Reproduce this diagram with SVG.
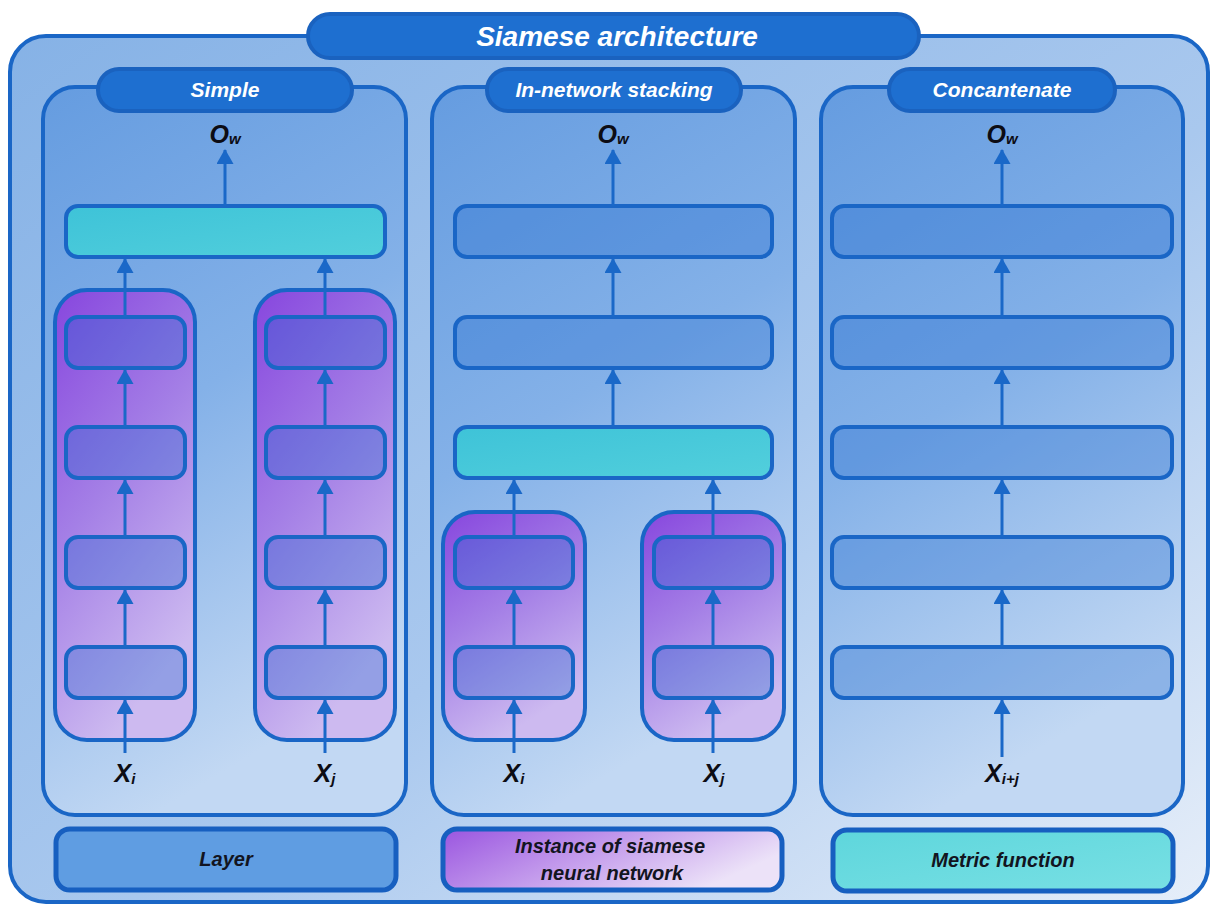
<svg xmlns="http://www.w3.org/2000/svg" width="1210" height="904" viewBox="0 0 1210 904">
  <defs>
    <linearGradient id="gOuter" x1="0" y1="0" x2="1" y2="1">
      <stop offset="0" stop-color="#86b2e6"/>
      <stop offset="0.55" stop-color="#a9c8ee"/>
      <stop offset="1" stop-color="#e6eef9"/>
    </linearGradient>
    <linearGradient id="gPanel" x1="0" y1="0" x2="0.3" y2="1">
      <stop offset="0" stop-color="#659ce0"/>
      <stop offset="0.5" stop-color="#84b1e8"/>
      <stop offset="1" stop-color="#c2d8f3"/>
    </linearGradient>
    <linearGradient id="gInst" x1="0" y1="0" x2="0.4" y2="1">
      <stop offset="0" stop-color="#8746de"/>
      <stop offset="0.5" stop-color="#a47fe6"/>
      <stop offset="1" stop-color="#cdbaf0"/>
    </linearGradient>
    <linearGradient id="gInstLegend" x1="0" y1="0" x2="1" y2="0.4">
      <stop offset="0" stop-color="#9a55e0"/>
      <stop offset="0.6" stop-color="#cba8ee"/>
      <stop offset="1" stop-color="#ece2f8"/>
    </linearGradient>
    <linearGradient id="gMetric" x1="0" y1="0" x2="1" y2="1">
      <stop offset="0" stop-color="#3ec3d8"/>
      <stop offset="1" stop-color="#52cfdc"/>
    </linearGradient>
    <linearGradient id="gMetricLegend" x1="0" y1="0" x2="1" y2="1">
      <stop offset="0" stop-color="#5ed6dc"/>
      <stop offset="1" stop-color="#78e0e4"/>
    </linearGradient>
    <!-- triangular head, drawn along +x so orient="auto" follows the line -->
    <marker id="arrow" viewBox="0 0 15 17" refX="14" refY="8.5" markerWidth="15" markerHeight="17" markerUnits="userSpaceOnUse" orient="auto">
      <path d="M0,0 L15,8.5 L0,17 Z" fill="#1a68c8"/>
    </marker>
  </defs>
  <style>
    .frame { stroke: #1a66c6; stroke-width: 4; }
    .pill { fill: #1e6fd0; stroke: #1a62bf; stroke-width: 4; }
    .layer { fill: rgba(28,104,206,0.32); stroke: #1a66c6; stroke-width: 4; }
    .metric { fill: url(#gMetric); stroke: #1a66c6; stroke-width: 4; }
    .inst { fill: url(#gInst); stroke: #1a66c6; stroke-width: 4; }
    .conn { stroke: #1a68c8; stroke-width: 3; fill: none; marker-end: url(#arrow); }
    .title { font-family: "Liberation Sans", Arial, sans-serif; font-weight: bold; font-style: italic; fill: #ffffff; text-anchor: middle; }
    .sym { font-family: "Liberation Sans", Arial, sans-serif; font-weight: bold; font-style: italic; fill: #0c0c14; text-anchor: middle; }
    .legend { font-family: "Liberation Sans", Arial, sans-serif; font-weight: bold; font-style: italic; fill: #121420; text-anchor: middle; font-size: 20px; }
  </style>

  <!-- outer container -->
  <g id="container">
    <rect x="10" y="36" width="1198" height="866" rx="36" fill="url(#gOuter)" class="frame"/>
    <rect x="308" y="14" width="611" height="44" rx="22" class="pill"/>
    <text x="617" y="46" class="title" font-size="28">Siamese architecture</text>
  </g>

  <!-- panel: simple -->
  <g id="panel-simple">
    <rect x="43" y="87" width="363" height="728" rx="32" fill="url(#gPanel)" class="frame"/>
    <rect x="98" y="69" width="254" height="42" rx="21" class="pill"/>
    <text x="225" y="97" class="title" font-size="21">Simple</text>
    <text x="225" y="143" class="sym" font-size="25">O<tspan font-size="15" dy="1">w</tspan></text>
    <rect x="66" y="206" width="319" height="51" rx="12" class="metric"/>
    <rect x="55" y="290" width="140" height="450" rx="32" class="inst"/>
    <rect x="255" y="290" width="140" height="450" rx="32" class="inst"/>
    <rect x="66" y="317" width="119" height="51" rx="12" class="layer"/>
    <rect x="66" y="427" width="119" height="51" rx="12" class="layer"/>
    <rect x="66" y="537" width="119" height="51" rx="12" class="layer"/>
    <rect x="66" y="647" width="119" height="51" rx="12" class="layer"/>
    <rect x="266" y="317" width="119" height="51" rx="12" class="layer"/>
    <rect x="266" y="427" width="119" height="51" rx="12" class="layer"/>
    <rect x="266" y="537" width="119" height="51" rx="12" class="layer"/>
    <rect x="266" y="647" width="119" height="51" rx="12" class="layer"/>
    <text x="125" y="782" class="sym" font-size="25">X<tspan font-size="15" dy="2">i</tspan></text>
    <text x="325" y="782" class="sym" font-size="25">X<tspan font-size="15" dy="2">j</tspan></text>
  </g>

  <!-- panel: in-network stacking -->
  <g id="panel-stacking">
    <rect x="432" y="87" width="363" height="728" rx="32" fill="url(#gPanel)" class="frame"/>
    <rect x="487" y="69" width="254" height="42" rx="21" class="pill"/>
    <text x="614" y="97" class="title" font-size="21">In-network stacking</text>
    <text x="613" y="143" class="sym" font-size="25">O<tspan font-size="15" dy="1">w</tspan></text>
    <rect x="455" y="206" width="317" height="51" rx="12" class="layer"/>
    <rect x="455" y="317" width="317" height="51" rx="12" class="layer"/>
    <rect x="455" y="427" width="317" height="51" rx="12" class="metric"/>
    <rect x="443" y="512" width="142" height="228" rx="32" class="inst"/>
    <rect x="642" y="512" width="142" height="228" rx="32" class="inst"/>
    <rect x="455" y="537" width="118" height="51" rx="12" class="layer"/>
    <rect x="455" y="647" width="118" height="51" rx="12" class="layer"/>
    <rect x="654" y="537" width="118" height="51" rx="12" class="layer"/>
    <rect x="654" y="647" width="118" height="51" rx="12" class="layer"/>
    <text x="514" y="782" class="sym" font-size="25">X<tspan font-size="15" dy="2">i</tspan></text>
    <text x="714" y="782" class="sym" font-size="25">X<tspan font-size="15" dy="2">j</tspan></text>
  </g>

  <!-- panel: concatenate -->
  <g id="panel-concat">
    <rect x="821" y="87" width="362" height="728" rx="32" fill="url(#gPanel)" class="frame"/>
    <rect x="889" y="69" width="226" height="42" rx="21" class="pill"/>
    <text x="1002" y="97" class="title" font-size="21">Concantenate</text>
    <text x="1002" y="143" class="sym" font-size="25">O<tspan font-size="15" dy="1">w</tspan></text>
    <rect x="832" y="206" width="340" height="51" rx="12" class="layer"/>
    <rect x="832" y="317" width="340" height="51" rx="12" class="layer"/>
    <rect x="832" y="427" width="340" height="51" rx="12" class="layer"/>
    <rect x="832" y="537" width="340" height="51" rx="12" class="layer"/>
    <rect x="832" y="647" width="340" height="51" rx="12" class="layer"/>
    <text x="1002" y="782" class="sym" font-size="25">X<tspan font-size="15" dy="2">i+j</tspan></text>
  </g>

  <!-- connectors -->
  <g id="connectors">
    <!-- simple -->
    <line x1="225" y1="206" x2="225" y2="150" class="conn"/>
    <line x1="125" y1="317" x2="125" y2="259" class="conn"/>
    <line x1="325" y1="317" x2="325" y2="259" class="conn"/>
    <line x1="125" y1="427" x2="125" y2="370" class="conn"/>
    <line x1="125" y1="537" x2="125" y2="480" class="conn"/>
    <line x1="125" y1="647" x2="125" y2="590" class="conn"/>
    <line x1="125" y1="753" x2="125" y2="700" class="conn"/>
    <line x1="325" y1="427" x2="325" y2="370" class="conn"/>
    <line x1="325" y1="537" x2="325" y2="480" class="conn"/>
    <line x1="325" y1="647" x2="325" y2="590" class="conn"/>
    <line x1="325" y1="753" x2="325" y2="700" class="conn"/>
    <!-- in-network stacking -->
    <line x1="613" y1="206" x2="613" y2="150" class="conn"/>
    <line x1="613" y1="317" x2="613" y2="259" class="conn"/>
    <line x1="613" y1="427" x2="613" y2="370" class="conn"/>
    <line x1="514" y1="537" x2="514" y2="480" class="conn"/>
    <line x1="713" y1="537" x2="713" y2="480" class="conn"/>
    <line x1="514" y1="647" x2="514" y2="590" class="conn"/>
    <line x1="713" y1="647" x2="713" y2="590" class="conn"/>
    <line x1="514" y1="753" x2="514" y2="700" class="conn"/>
    <line x1="713" y1="753" x2="713" y2="700" class="conn"/>
    <!-- concatenate -->
    <line x1="1002" y1="206" x2="1002" y2="150" class="conn"/>
    <line x1="1002" y1="317" x2="1002" y2="259" class="conn"/>
    <line x1="1002" y1="427" x2="1002" y2="370" class="conn"/>
    <line x1="1002" y1="537" x2="1002" y2="480" class="conn"/>
    <line x1="1002" y1="647" x2="1002" y2="590" class="conn"/>
    <line x1="1002" y1="757" x2="1002" y2="700" class="conn"/>
  </g>

  <!-- legend -->
  <g id="legend-layer">
    <rect x="56" y="829" width="340" height="61" rx="14" fill="#5f9de2" stroke="#175fc0" stroke-width="5"/>
    <text x="226" y="866" class="legend">Layer</text>
  </g>
  <g id="legend-instance">
    <rect x="443" y="829" width="339" height="61" rx="14" fill="url(#gInstLegend)" stroke="#175fc0" stroke-width="5"/>
    <text x="610" y="853" class="legend">Instance of siamese</text>
    <text x="612" y="880" class="legend">neural network</text>
  </g>
  <g id="legend-metric">
    <rect x="833" y="830" width="340" height="61" rx="14" fill="url(#gMetricLegend)" stroke="#175fc0" stroke-width="5"/>
    <text x="1003" y="867" class="legend">Metric function</text>
  </g>
</svg>
